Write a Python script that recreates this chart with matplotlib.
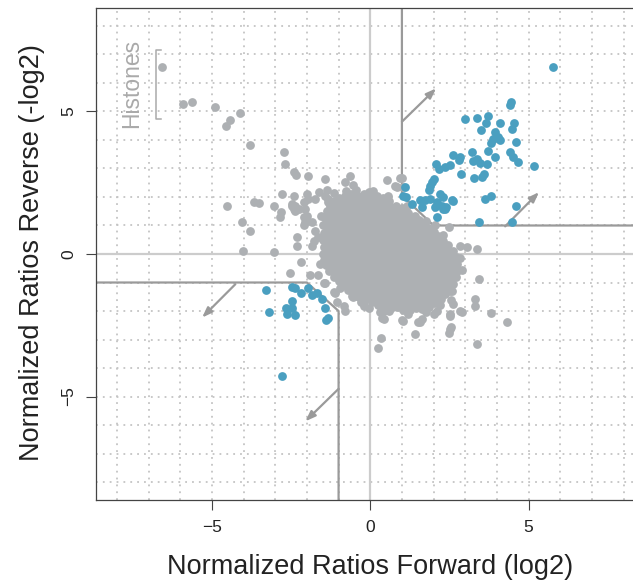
import numpy as np
import matplotlib
matplotlib.use('Agg')
import matplotlib.pyplot as plt

plt.rcParams['font.family'] = ['Liberation Sans', 'DejaVu Sans']

# grey proteins outside the dense core (log2 forward, -log2 reverse)
grey_x = [-6.57, -5.91, -5.62, -4.91, -4.42, -4.57, -4.10, -3.81, -2.73, -2.68,
          -2.40, -2.33, -1.97, -1.42, -0.63, -0.79, -0.53, -4.52, -3.68, -3.52,
          -2.79, -3.03, -2.82, -2.86, -2.42, -2.37, -2.00, -1.95, -1.63, -1.35,
          -1.32, -2.26, -2.10, -1.84, -4.05, -3.81, -2.31, -2.31, -4.02, -3.05,
          -2.47, -2.37, -2.00, -2.05, -2.10, -1.74, -1.79, -1.84, -1.74, -1.42,
          -1.32, -2.10, -2.05, -2.47, -2.40,
          0.53, 0.79, 1.00, 1.05, 0.95, 0.84, -0.05, 2.05, 2.50, 2.84, 3.05, 3.37,
          3.42, 3.31, 3.31, 2.84, 2.52, 2.58, 2.55, 2.60, 2.52, 2.52, 2.55, 2.50,
          1.42, 1.00, 1.05, 0.34, 0.26, 3.37, 0.42, 0.32, 1.56, 1.63, 2.00, 2.10,
          3.81, 4.31, 2.89, 2.52, 1.52, 0.37, 0.42,
          -2.19, -2.52, -1.89, -1.65, -1.47, -1.16, -0.84, -1.05, -0.58, -0.42,
          -0.05, 0.21, -0.79, -0.53, -0.21, -1.42, -1.10]
grey_y = [6.57, 5.25, 5.32, 5.17, 4.69, 4.49, 4.93, 3.81, 3.58, 3.17,
          2.88, 2.78, 2.74, 2.62, 2.74, 2.52, 2.43, 1.68, 1.82, 1.80,
          2.11, 1.68, 1.47, 1.29, 2.05, 1.70, 2.11, 1.94, 2.19, 2.23,
          1.94, 1.58, 1.29, 1.14, 1.14, 0.82, 0.59, 0.29, 0.12, 0.06,
          1.68, 1.52, 1.35, 1.12, 1.00, 0.82, 0.47, 0.29, 1.94, 2.05,
          1.82, 1.82, 1.58, 1.76, 1.58,
          2.58, 2.40, 2.66, 2.35, 2.66, 2.35, 2.19, 1.00, 0.95, 0.27, 0.25, 0.18,
          -0.88, -1.58, -1.82, -2.00, -1.29, -1.29, -1.60, -1.75, -2.10, -2.64, -2.55, -2.76,
          -2.82, -2.31, -2.35, -2.93, -3.29, -3.17, -2.00, -2.05, -2.40, -2.29, -2.11, -2.00,
          -2.08, -2.40, -2.03, -2.19, -2.40, -2.23, -2.29,
          -0.29, -0.67, -0.74, -0.74, -1.00, -1.35, -1.82, -1.70, -1.47, -1.49,
          -1.88, -1.70, -2.00, -1.52, -1.82, -1.02, -1.37]

# points sitting on the ragged rim of the core
rim_x = [-1.15, -0.45, 0.10, 0.55, 1.15, 1.75, 2.30, 2.85, 2.90, 2.60,
         2.20, 1.75, 1.20, 0.60, -0.30, -0.95, -1.60, -1.65, -1.55, -0.75]
rim_y = [2.15, 2.25, 2.20, 2.05, 1.70, 1.15, 0.65, -0.15, -0.55, -1.05,
         -1.80, -2.05, -2.12, -2.00, -1.70, -1.20, -0.35, 0.60, 1.35, 2.20]

# outline of the dense, overlapping core of unchanged proteins
core_x = [-1.00, -0.80, -0.60, -0.40, -0.20, 0.00, 0.20, 0.40,
          0.60, 0.80, 1.00, 1.20, 1.40, 1.55, 1.70, 1.85, 2.00, 2.15, 2.30, 2.45, 2.60,
          2.70, 2.75, 2.75, 2.70, 2.55, 2.45, 2.35, 2.25,
          2.05, 1.85, 1.65, 1.45, 1.25, 1.05, 0.85, 0.65, 0.45, 0.25, 0.05,
          -0.15, -0.35, -0.50, -0.70, -0.85, -1.00, -1.15, -1.30, -1.40,
          -1.45, -1.50, -1.45, -1.50, -1.45, -1.50, -1.42, -1.38, -1.28, -1.15]
core_y = [1.98, 2.05, 2.10, 2.05, 2.10, 2.02, 2.05, 1.95,
          1.85, 1.70, 1.60, 1.45, 1.35, 1.20, 1.05, 0.90, 0.78, 0.62, 0.45, 0.30, 0.12,
          -0.10, -0.35, -0.60, -0.80, -1.00, -1.20, -1.40, -1.58,
          -1.72, -1.85, -1.92, -1.88, -1.98, -1.95, -1.85, -1.90, -1.82, -1.78, -1.70,
          -1.60, -1.50, -1.35, -1.25, -1.10, -0.95, -0.80, -0.60, -0.40,
          -0.20, 0.00, 0.25, 0.50, 0.75, 1.00, 1.25, 1.50, 1.70, 1.85]

# significantly changed proteins (blue)
blue_x = [5.76, 4.45, 4.40, 3.00, 3.37, 3.73, 3.66, 4.10, 4.55, 4.47, 3.50, 3.94,
          4.05, 3.89, 4.10, 3.81, 4.61, 3.21, 3.73, 4.40, 3.94, 4.52, 4.68, 3.37,
          3.26, 3.47, 3.70, 5.17, 2.61, 2.84, 2.79, 2.08, 2.16, 2.37, 2.52, 2.87,
          3.29, 3.52, 3.58, 2.00, 1.95, 1.89, 1.84, 1.10, 2.21, 2.31, 1.58, 1.74,
          1.89, 2.10, 2.58, 2.26, 2.05, 2.37, 1.63, 1.32, 1.14, 2.10, 3.63, 3.82,
          3.45, 4.47, 4.61, 1.05, 2.31, 2.40, 2.61,
          -3.28, -3.21, -2.47, -2.37, -2.19, -2.47, -2.65, -2.47, -2.63, -2.38,
          -1.95, -1.84, -1.68, -1.52, -1.44, -1.39, -1.32, -2.79]
blue_y = [6.55, 5.32, 5.22, 4.73, 4.78, 4.85, 4.58, 4.58, 4.58, 4.40, 4.34, 4.28,
          4.11, 4.05, 3.99, 3.91, 3.93, 3.58, 3.60, 3.58, 3.40, 3.40, 3.23, 3.32,
          3.25, 3.20, 3.17, 3.09, 3.46, 3.40, 3.29, 3.17, 2.99, 3.05, 3.11, 2.82,
          2.67, 2.70, 2.82, 2.64, 2.52, 2.38, 2.23, 2.35, 2.11, 2.00, 1.91, 1.88,
          1.94, 1.82, 1.88, 1.70, 1.64, 1.58, 1.64, 1.76, 2.00, 1.29, 1.94, 2.03,
          1.14, 1.14, 1.68, 2.05, 1.58, 1.64, 1.85,
          -1.26, -2.05, -1.17, -1.21, -1.37, -1.64, -1.90, -1.88, -2.11, -2.15,
          -1.21, -1.44, -1.37, -1.58, -1.88, -2.32, -2.26, -4.28]

# cut-off borders and direction arrows
upper_cut_x = [1, 1, 2, 9]
upper_cut_y = [9, 2.05, 1, 1]
lower_cut_x = [-9, -2, -1, -1]
lower_cut_y = [-1, -1, -2, -9]
arrow_start = [(1.0, 4.64), (4.26, 0.97), (-4.26, -1.06), (-1.0, -4.73)]
arrow_end = [(2.08, 5.81), (5.33, 2.17), (-5.31, -2.23), (-2.05, -5.87)]

grey = '#adb0b3'
blue = '#4a9fc0'
line_col = '#9a9a9a'
msize = 40

fig = plt.figure(figsize=(6.33, 5.83), dpi=100)
ax = fig.add_axes([95.7 / 633, 1 - 500 / 583, (644.8 - 95.7) / 633, 492 / 583])
ax.set_xlim(-8.67, 8.67)
ax.set_ylim(-8.63, 8.63)

for v in range(-8, 9):
    ax.axvline(v, color='#c4c4c4', lw=1.3, ls=(0, (1, 2.8)), zorder=0)
    ax.axhline(v, color='#c4c4c4', lw=1.3, ls=(0, (1, 2.8)), zorder=0)
ax.axvline(0, color='#cccccc', lw=1.6, zorder=1)
ax.axhline(0, color='#cccccc', lw=1.6, zorder=1)

ax.plot(upper_cut_x, upper_cut_y, color=line_col, lw=1.6, zorder=2)
ax.plot(lower_cut_x, lower_cut_y, color=line_col, lw=1.6, zorder=2)
for s, e in zip(arrow_start, arrow_end):
    ax.annotate('', xy=e, xytext=s,
                arrowprops=dict(arrowstyle='-|>,head_length=0.6,head_width=0.22',
                                color=line_col, lw=1.6, shrinkA=0, shrinkB=0),
                zorder=2)

ax.fill(core_x, core_y, color=grey, lw=0, zorder=3)
ax.scatter(core_x, core_y, s=msize, color=grey, lw=0, zorder=3)
ax.scatter(rim_x, rim_y, s=msize, color=grey, lw=0, zorder=3)
ax.scatter(grey_x, grey_y, s=msize, color=grey, lw=0, zorder=3)
ax.scatter(blue_x, blue_y, s=msize, color=blue, lw=0, zorder=4)

# histone bracket
ax.plot([-6.60, -6.78, -6.78, -6.60], [7.14, 7.14, 4.73, 4.73], color='#aaaaaa', lw=1.1)
ax.text(-7.55, 6.0, 'Histones', rotation=90, ha='center', va='center',
        color='#aaaaaa', fontsize=16.5)

for sp in ax.spines.values():
    sp.set_color('#444444')
    sp.set_linewidth(0.9)
ax.set_xticks([-5, 0, 5])
ax.set_yticks([-5, 0, 5])
ax.set_xticklabels(['\u22125', '0', '5'])
ax.set_yticklabels(['\u22125', '0', '5'], rotation=90, va='center')
ax.tick_params(length=7.2, width=0.8, color='#444444', labelsize=12.5, pad=7,
               labelcolor='#222222')

fig.text(370 / 633, 1 - 567 / 583, 'Normalized Ratios Forward (log2)',
         ha='center', va='center', fontsize=19.5, color='#222222')
fig.text(32 / 633, 1 - 253 / 583, 'Normalized Ratios Reverse (-log2)',
         ha='center', va='center', rotation=90, fontsize=19.5, color='#222222')

fig.savefig('out.png', dpi=100)
